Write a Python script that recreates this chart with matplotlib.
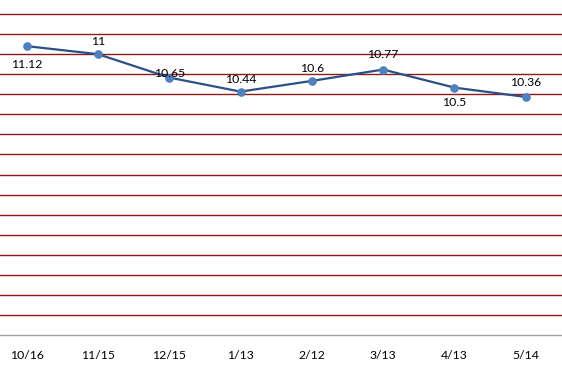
# Serie de valores por fecha con líneas horizontales de guía
import matplotlib.pyplot as plt

fechas = ['10/16', '11/15', '12/15', '1/13', '2/12', '3/13', '4/13', '5/14']
valores = [11.12, 11, 10.65, 10.44, 10.6, 10.77, 10.5, 10.36]
etiquetas = ['11.12', '11', '10.65', '10.44', '10.6', '10.77', '10.5', '10.36']
desplaz = [18, -13, -4, -12, -12, -15, 15, -14]  # px, positivo = abajo

plt.rcParams['font.family'] = ['Lato', 'DejaVu Sans']

fig = plt.figure(figsize=(5.62, 3.67), dpi=100)
ax = fig.add_axes([0, 32 / 367, 1, 335 / 367])

x = list(range(len(fechas)))
ax.plot(x, valores, color='#2C4F86', lw=1.6, marker='o', ms=5.2,
        mfc='#4F81BD', mec='#4F81BD', zorder=3)

for xi, v, t, d in zip(x, valores, etiquetas, desplaz):
    ax.annotate(t, (xi, v), xytext=(0, -d * 0.72), textcoords='offset points',
                ha='center', va='center', fontsize=8.8, color='black', zorder=4)

ax.set_ylim(6.8, 6.8 + 335 / 20.06 * 0.3)
ax.set_xlim(-26.7 / 71.3, 7 + (562 - 525.7) / 71.3)
ax.set_yticks([6.8 + 0.3 * k for k in range(1, 17)])
ax.yaxis.grid(True, color='#8B1A1A', lw=1.0)
ax.tick_params(axis='y', left=False, labelleft=False)
ax.set_xticks(x)
ax.set_xticklabels(fechas, fontsize=8.8)
ax.tick_params(axis='x', length=0, pad=11)
for s in ['top', 'left', 'right']:
    ax.spines[s].set_visible(False)
ax.spines['bottom'].set_color('#A0A0A0')
ax.spines['bottom'].set_linewidth(1.0)
ax.set_axisbelow(True)

plt.savefig('out.png', dpi=100)
